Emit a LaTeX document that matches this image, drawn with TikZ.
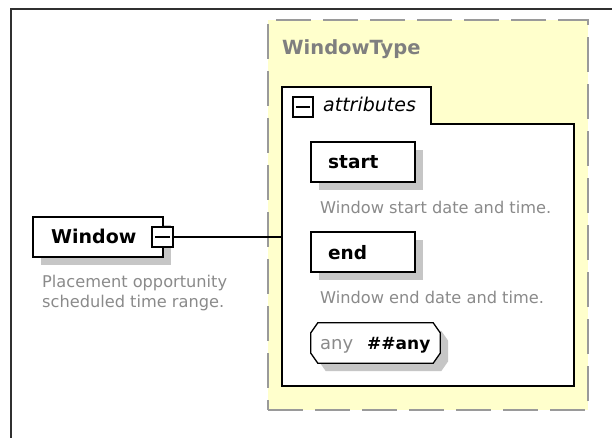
\documentclass[tikz,border=0pt]{standalone}
\usepackage{fontspec}
\setmainfont{DejaVu Sans}
\usetikzlibrary{calc}
\definecolor{yel}{HTML}{FFFFCC}
\definecolor{dashgray}{HTML}{9A9A9A}
\definecolor{txtgray}{HTML}{8A8A8A}
\definecolor{titlegray}{HTML}{7F7F7F}
\definecolor{shadowgray}{HTML}{C6C6C6}
\definecolor{framegray}{HTML}{303030}
\begin{document}
\begin{tikzpicture}[x=1pt,y=-1pt,
  elembox/.style={draw=black, line width=1.5pt, fill=white, inner sep=0pt,
    preaction={fill=shadowgray, transform canvas={xshift=8pt,yshift=-8pt}}},
  minusbox/.style={draw=black, line width=1.2pt, fill=white, inner sep=0pt,
    minimum width=20pt, minimum height=20pt},
  lbl/.style={anchor=base west, inner sep=0pt, font=\fontsize{18.5}{22}\selectfont\bfseries},
  desc/.style={anchor=base west, inner sep=0pt, text=txtgray, align=left,
    font=\fontsize{16.2}{20}\selectfont},
  conn/.style={draw=black, line width=1.3pt}
]
\useasboundingbox (0,0) rectangle (612,438);
% outer frame
\draw[framegray, line width=1.5pt] (612,9) -- (11,9) -- (11,438);
% complex type box
\node[draw=dashgray, fill=yel, line width=1.5pt, dash pattern=on 35pt off 12pt,
  minimum width=320pt, minimum height=390pt, inner sep=0pt] (wtbox) at (428,215) {};
\node[anchor=base west, inner sep=0pt, text=titlegray,
  font=\fontsize{19.5}{23}\selectfont\bfseries] (wtlbl) at (282,55) {WindowType};
% attributes group
\draw[draw=black, line width=1.5pt, fill=white]
  (282,87) -- (431,87) -- (431,124) -- (574,124) -- (574,386) -- (282,386) -- cycle;
\coordinate (attrW) at (282,237);
\node[minusbox] (attrminus) at (303,107) {};
\draw[black, line width=1.2pt] ($(attrminus.west)+(4,0)$) -- ($(attrminus.east)+(-4,0)$);
\node[anchor=base west, inner sep=0pt, font=\fontsize{19}{22}\selectfont\itshape] (attrlbl) at (323,112) {attributes};
% start
\node[elembox, minimum width=104pt, minimum height=40pt] (start) at (363,162) {};
\node[lbl] (startlbl) at (328,169) {start};
\node[desc] (startdesc) at (320,213) {Window start date and time.};
% end
\node[elembox, minimum width=104pt, minimum height=40pt] (end) at (363,252) {};
\node[lbl] (endlbl) at (328,259) {end};
\node[desc] (enddesc) at (320,303) {Window end date and time.};
% any
\node[inner sep=0pt, minimum width=129pt, minimum height=40pt] (any) at (375.5,343) {};
\fill[shadowgray] ($(any.north west)+(8+7,8)$) -- ($(any.north east)+(8-7,8)$) -- ($(any.north east)+(8,8+10)$)
  -- ($(any.south east)+(8,8-10)$) -- ($(any.south east)+(8-7,8)$) -- ($(any.south west)+(8+7,8)$)
  -- ($(any.south west)+(8,8-10)$) -- ($(any.north west)+(8,8+10)$) -- cycle;
\draw[black, line width=1.3pt, fill=white] ($(any.north west)+(7,0)$) -- ($(any.north east)+(-7,0)$) -- ($(any.north east)+(0,10)$)
  -- ($(any.south east)+(0,-10)$) -- ($(any.south east)+(-7,0)$) -- ($(any.south west)+(7,0)$)
  -- ($(any.south west)+(0,-10)$) -- ($(any.north west)+(0,10)$) -- cycle;
\node[anchor=base west, inner sep=0pt, text=txtgray, font=\fontsize{18}{22}\selectfont] (anylbl) at (320,349) {any};
\node[anchor=base west, inner sep=0pt, font=\fontsize{17}{22}\selectfont\bfseries] (anyns) at (367,349) {\#\#any};
% Window element
\node[elembox, minimum width=130pt, minimum height=40pt] (win) at (98,237) {};
\node[lbl, font=\fontsize{19}{23}\selectfont\bfseries] (winlbl) at (51,243) {Window};
\node[minusbox, minimum width=21pt] (winminus) at (162.5,237) {};
\draw[black, line width=1.2pt] ($(winminus.west)+(4,0)$) -- ($(winminus.east)+(-4,0)$);
\node[desc] (windesc) at (42,307) {Placement opportunity\\scheduled time range.};
% connector
\draw[conn] (winminus.east) -- (attrW);
\end{tikzpicture}
\end{document}
